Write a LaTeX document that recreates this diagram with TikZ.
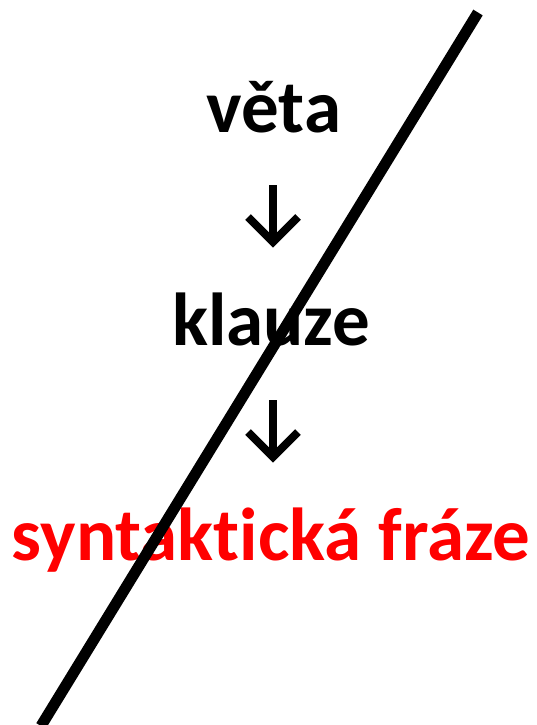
\documentclass[tikz,border=0pt]{standalone}
\usepackage{fontspec}
\setmainfont[RawFeature={-liga;-dlig;-clig}]{Carlito}
\begin{document}
\begin{tikzpicture}[x=1pt,y=-1pt,
  word/.style={font=\fontsize{75}{82}\selectfont\bfseries, inner sep=0pt, anchor=base},
  downarrow/.style={line width=8pt, line cap=butt, line join=miter, draw=black}]
\useasboundingbox (0,0) rectangle (537,725);
\node[word] (veta) at (274,132) {věta};
\node[word] (klauze) at (271,345) {klauze};
\node[word, text={rgb,255:red,255;green,0;blue,0}] (fraze) at (271,560) {syntaktická fráze};
% arrow 1
\coordinate (a1s) at (273,185);
\coordinate (a1t) at (273,242);
\coordinate (a1l) at (248,217);
\coordinate (a1r) at (298,217);
\draw[downarrow] (a1s) -- (a1t);
\draw[downarrow] (a1l) -- (a1t) -- (a1r);
% arrow 2
\coordinate (a2s) at (273,400);
\coordinate (a2t) at (273,457);
\coordinate (a2l) at (248,432);
\coordinate (a2r) at (298,432);
\draw[downarrow] (a2s) -- (a2t);
\draw[downarrow] (a2l) -- (a2t) -- (a2r);
% strike line
\coordinate (ltop) at (478,12.5);
\coordinate (lbot) at (41,726);
\draw[line width=11pt, line cap=butt] (ltop) -- (lbot);
\end{tikzpicture}
\end{document}
